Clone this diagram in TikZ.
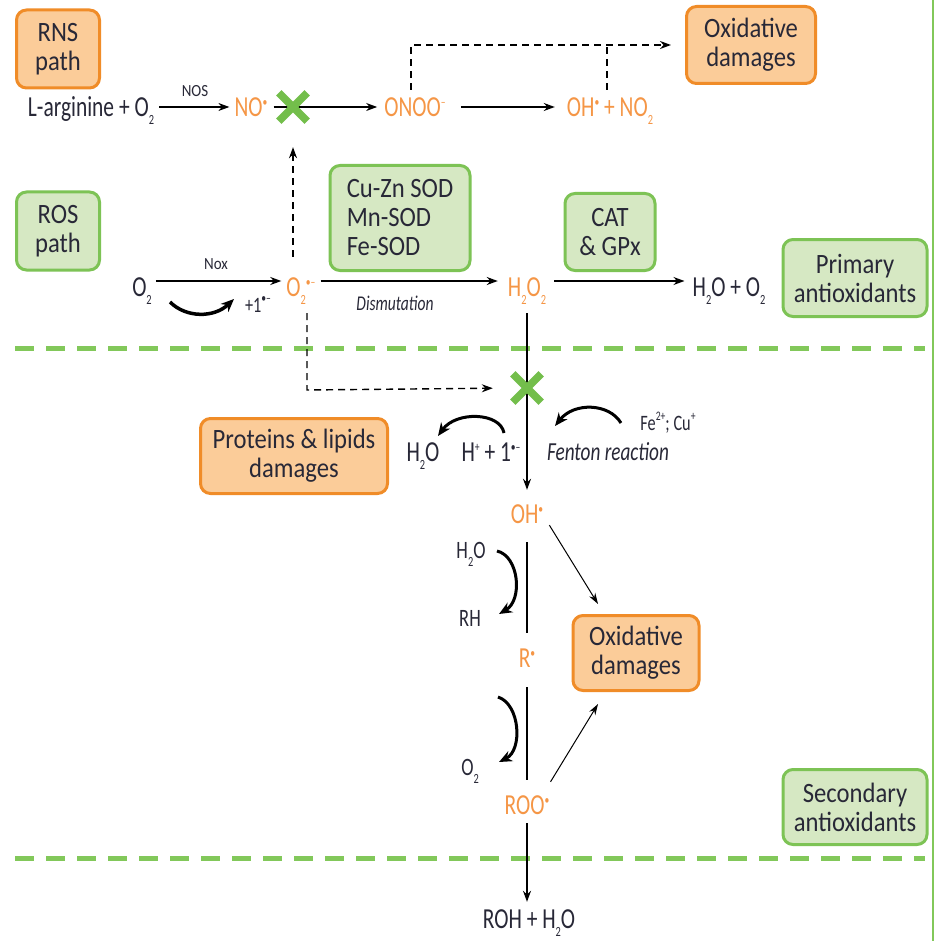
\documentclass[tikz,border=0pt]{standalone}
\usepackage{fontspec}
\setmainfont{Carlito}
\newfontfamily\cf[FakeStretch=0.74]{Carlito}
\newfontfamily\bxf[FakeStretch=0.88]{Carlito}
\usetikzlibrary{arrows.meta}
\definecolor{oranT}{RGB}{245,150,70}
\definecolor{darkT}{RGB}{40,40,55}
\definecolor{gDraw}{RGB}{125,195,85}
\definecolor{gFill}{RGB}{214,232,195}
\definecolor{oDraw}{RGB}{240,140,40}
\definecolor{oFill}{RGB}{251,204,153}
\definecolor{gLine}{RGB}{130,200,90}
\definecolor{gX}{RGB}{115,190,75}
\newcommand\mysub[1]{\raisebox{-8pt}{\fontsize{14}{14}\selectfont #1}}
\newcommand\mysup[1]{\raisebox{10pt}{\fontsize{13}{13}\selectfont #1}}
\tikzset{
 chem/.style={font=\cf\fontsize{29}{30}\selectfont, text=darkT, inner sep=0pt, text height=20pt, text depth=0pt},
 rowtwo/.style={text height=30pt},
 ochem/.style={chem, text=oranT},
 lbl/.style={font=\bxf\fontsize{17}{18}\selectfont, text=darkT, inner sep=0pt},
 midlbl/.style={font=\cf\fontsize{22}{24}\selectfont, text=darkT, inner sep=0pt},
 itl/.style={font=\cf\itshape\fontsize{21}{22}\selectfont, text=darkT, inner sep=0pt},
 obox/.style={draw=oDraw, fill=oFill, line width=3pt, rounded corners=10pt, align=center, font=\bxf\fontsize{28}{29}\selectfont, text=darkT, inner sep=0pt},
 gbox/.style={obox, draw=gDraw, fill=gFill},
 arr/.style={-{Stealth[length=11pt,width=8pt]}, line width=1.4pt, draw=black},
 plainln/.style={line width=1.4pt, draw=black},
 darr/.style={arr, dash pattern=on 7pt off 5pt},
 dline/.style={plainln, dash pattern=on 7pt off 5pt},
 carr/.style={-{Stealth[length=13pt,width=11pt]}, line width=3.5pt, draw=black},
 tarr/.style={-{Stealth[length=11pt,width=7pt]}, line width=1pt, draw=black},
 gdash/.style={draw=gLine, line width=5pt, dash pattern=on 19pt off 12pt},
 xmk/.style={minimum size=28pt, inner sep=0pt},
 xst/.style={draw=gX, line width=7.5pt},
}
\begin{document}
\begin{tikzpicture}[x=1pt,y=-1pt]
\useasboundingbox (0,0) rectangle (937,941);
\fill[white] (0,0) rectangle (937,941);

% frame lines
\draw[gLine, line width=2pt] (933,0) -- (933,941);
\draw[gdash] (15,348) -- (925,348);
\draw[gdash] (15,858) -- (925,858);

% boxes
\node[obox, minimum width=83pt, minimum height=78pt] (rns) at (58,49) {RNS\\path};
\node[gbox, minimum width=83pt, minimum height=78pt] (ros) at (58,231) {ROS\\path};
\node[obox, minimum width=129pt, minimum height=77pt] (oxd1) at (751,45) {Oxidative\\damages};
\node[gbox, align=left, minimum width=140pt, minimum height=105pt] (sod) at (400,218) {Cu-Zn SOD\\Mn-SOD\\Fe-SOD};
\node[gbox, minimum width=90pt, minimum height=77pt] (cat) at (610,232) {CAT\\\& GPx};
\node[gbox, minimum width=144pt, minimum height=77pt] (prim) at (855,278) {Primary\\antioxidants};
\node[obox, minimum width=187pt, minimum height=75pt] (prot) at (294,456) {Proteins \& lipids\\damages};
\node[obox, minimum width=126pt, minimum height=75pt] (oxd2) at (636,653) {Oxidative\\damages};
\node[gbox, minimum width=144pt, minimum height=75pt] (sec) at (855,807) {Secondary\\antioxidants};

% RNS row
\node[chem] (larg) at (91,107) {L-arginine + O\mysub{2}};
\node[lbl] (noslbl) at (195,91) {NOS};
\node[ochem] (no) at (251,107) {NO\mysup{\textbullet}};
\node[xmk] (x1) at (293,107) {};
\node[ochem] (onoo) at (415,107) {ONOO\mysup{\textendash}};
\node[ochem] (ohno) at (610,107) {OH\mysup{\textbullet} + NO\mysub{2}};

\draw[arr, shorten <=5pt, shorten >=5pt] (larg) -- (no);
\draw[arr, shorten <=6pt, shorten >=7pt] (no) -- (onoo);
\draw[arr, shorten <=15pt, shorten >=12pt] (onoo) -- (ohno);
\draw[darr, shorten <=7pt, shorten >=14pt] ([xshift=-4pt]onoo.north) |- (oxd1.west);
\draw[dline, shorten <=7pt] ([xshift=-3pt]ohno.north) -- ([xshift=-3pt]ohno.north |- oxd1.west);

% ROS row
\node[chem, rowtwo] (o2) at (142,281) {O\mysub{2}};
\node[lbl] (noxlbl) at (216,264) {Nox};
\node[ochem, rowtwo] (o2m) at (301,281) {O\mysub{2}\mysup{\textbullet\textendash}};
\node[ochem, rowtwo] (h2o2) at (527,281) {H\mysub{2}O\mysub{2}};
\node[chem, rowtwo] (h2oo2) at (729,281) {H\mysub{2}O + O\mysub{2}};
\node[itl] (dism) at (395,303) {Dismutation};
\node[midlbl] (plusone) at (258,305) {+1\mysup{\textbullet\textendash}};

\draw[arr, shorten <=4pt, shorten >=5pt] (o2) -- (o2m);
\draw[arr, shorten <=5pt, shorten >=10pt] (o2m) -- (h2o2);
\draw[arr, shorten <=8pt, shorten >=8pt] (h2o2) -- (h2oo2);
\draw[darr, shorten <=9pt, shorten >=26pt] (x1 |- o2m.north) -- (x1.south);

\coordinate (ea) at (170,302);
\coordinate (eb) at (234,299);
\draw[carr] (ea) .. controls (186,318) and (214,318) .. (eb);

% Fenton section
\node[xmk] (x2) at (527,388) {};
\node[ochem] (oh) at (527,513) {OH\mysup{\textbullet}};
\coordinate (dcorner) at (307,390);
\draw[darr, shorten <=17pt, shorten >=20pt] (dcorner |- o2m.south) -- (dcorner) -- (x2.west);
\draw[arr, shorten <=17pt, shorten >=13pt] (h2o2) -- (h2o2 |- oh.north);
\draw[xst] (x1.north west) -- (x1.south east) (x1.north east) -- (x1.south west);
\draw[xst] (x2.north west) -- (x2.south east) (x2.north east) -- (x2.south west);

\node[chem] (h2oa) at (423,451) {H\mysub{2}O};
\node[chem] (hplus) at (491,451) {H\mysup{+} + 1\mysup{\textbullet\textendash}};
\node[itl, font=\cf\itshape\fontsize{26}{28}\selectfont] (fenton) at (608,452) {Fenton reaction};
\node[midlbl] (fe) at (668,423) {Fe\mysup{2+}; Cu\mysup{+}};

\coordinate (fa) at (504,433);
\coordinate (fb) at (438,436);
\draw[carr, line width=3pt] (fa) .. controls (500,412) and (456,411) .. (fb);
\coordinate (fc) at (621,423);
\coordinate (fd) at (555,426);
\draw[carr, line width=3pt] (fc) .. controls (609,403) and (574,402) .. (fd);

% lipid chain
\node[ochem] (r) at (527,657) {R\mysup{\textbullet}};
\node[ochem] (roo) at (527,804) {ROO\mysup{\textbullet}};
\node[chem] (roh) at (529,918) {ROH + H\mysub{2}O};
\node[chem, font=\cf\fontsize{25}{27}\selectfont] (h2ob) at (471,548) {H\mysub{2}O};
\node[chem, font=\cf\fontsize{25}{27}\selectfont] (rh) at (470,616) {RH};
\node[chem, font=\cf\fontsize{25}{27}\selectfont] (o2b) at (470,765) {O\mysub{2}};

\draw[plainln, shorten <=19pt, shorten >=24pt] (oh) -- (oh |- r);
\draw[plainln, shorten <=20pt, shorten >=24pt] (r) -- (r |- roo);
\draw[arr, shorten <=9pt, shorten >=6pt] (roo.south) -- (roo.south |- roh.north);

\draw[tarr] ([shift={(6,2)}]oh.south east) -- ([shift={(-38,-10)}]oxd2.north);
\draw[tarr] ([shift={(1,-12)}]roo.north east) -- ([shift={(-38,12)}]oxd2.south);

\coordinate (ga) at (497,551);
\coordinate (gb) at (499,614);
\draw[carr, line width=3pt] (ga) .. controls (519,556) and (523,600) .. (gb);
\coordinate (gc) at (498,697);
\coordinate (gd) at (499,762);
\draw[carr, line width=3pt] (gc) .. controls (520,704) and (523,750) .. (gd);
\end{tikzpicture}
\end{document}
